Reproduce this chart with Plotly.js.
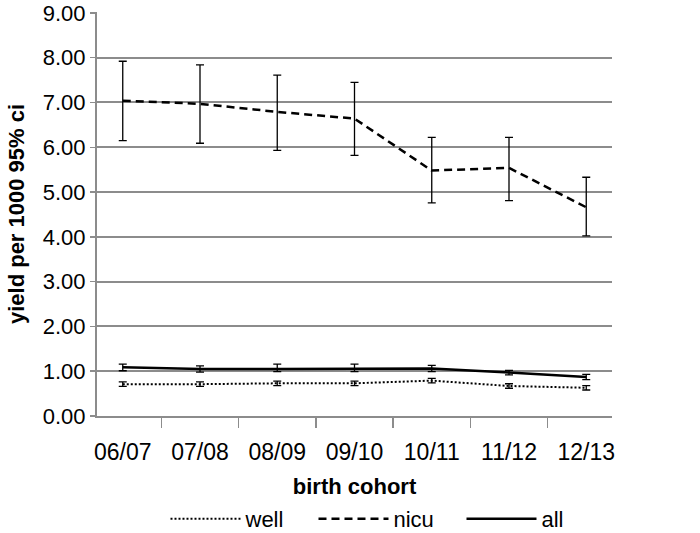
<!DOCTYPE html>
<html>
<head>
<meta charset="utf-8">
<script src="https://cdn.plot.ly/plotly-3.0.1.min.js"></script>
<style>body{margin:0;padding:0;background:#fff;} #chart{width:700px;height:533px;}</style>
</head>
<body>
<div id="chart"></div>
<script>
var cohorts = ["06/07", "07/08", "08/09", "09/10", "10/11", "11/12", "12/13"];

var wellValues = [0.71, 0.71, 0.73, 0.73, 0.79, 0.67, 0.63];
var wellUpper  = [0.76, 0.76, 0.78, 0.78, 0.84, 0.72, 0.68];
var wellLower  = [0.66, 0.66, 0.68, 0.68, 0.74, 0.62, 0.58];

var nicuValues = [7.04, 6.97, 6.79, 6.64, 5.48, 5.54, 4.66];
var nicuUpper  = [7.92, 7.84, 7.61, 7.45, 6.22, 6.22, 5.33];
var nicuLower  = [6.15, 6.09, 5.93, 5.82, 4.76, 4.81, 4.02];

var allValues = [1.09, 1.05, 1.05, 1.05, 1.06, 0.97, 0.87];
var allUpper  = [1.16, 1.12, 1.16, 1.16, 1.13, 1.02, 0.93];
var allLower  = [1.01, 0.98, 0.99, 0.99, 0.99, 0.92, 0.81];

function diff(a, b) { return a.map(function (v, i) { return +(v - b[i]).toFixed(3); }); }

function series(name, vals, up, lo, dash, w) {
  return {
    type: "scatter", mode: "lines", name: name,
    x: cohorts, y: vals,
    line: {color: "#000000", width: w, dash: dash},
    error_y: {type: "data", symmetric: false, array: diff(up, vals), arrayminus: diff(vals, lo),
              color: "#000000", thickness: 1.3, width: 4}
  };
}

var data = [
  series("well", wellValues, wellUpper, wellLower, "2px,2px", 2),
  series("nicu", nicuValues, nicuUpper, nicuLower, "8px,5px", 2.5),
  series("all", allValues, allUpper, allLower, "solid", 2.5)
];

var font = "Liberation Sans, Arial, sans-serif";
var layout = {
  width: 700, height: 533,
  margin: {l: 97, r: 88, t: 12, b: 117, autoexpand: false},
  paper_bgcolor: "#ffffff", plot_bgcolor: "#ffffff",
  showlegend: true,
  legend: {orientation: "h", x: 0.133, xanchor: "left", y: -0.255, yanchor: "middle",
           itemwidth: 70, entrywidth: 63, entrywidthmode: "pixels",
           font: {family: font, size: 22, color: "#000"}, traceorder: "normal"},
  xaxis: {
    type: "category", tickson: "boundaries", ticks: "outside", ticklen: 10, tickcolor: "#8c8c8c", tickwidth: 1.5,
    showline: true, linecolor: "#8c8c8c", linewidth: 2, showgrid: false, zeroline: false, automargin: false,
    ticklabelstandoff: 14,
    tickfont: {family: font, size: 23, color: "#000"},
    title: {text: "birth cohort", font: {family: font, size: 22, color: "#000", weight: "bold"}, standoff: 15}
  },
  yaxis: {
    range: [0, 9.02], dtick: 1, tickformat: ".2f", ticks: "outside", ticklen: 5, tickcolor: "#8c8c8c", tickwidth: 1.5,
    showline: true, linecolor: "#8c8c8c", linewidth: 2, automargin: false, ticklabeloverflow: "allow",
    showgrid: true, gridcolor: "#8c8c8c", gridwidth: 2, zeroline: false,
    tickfont: {family: font, size: 22, color: "#000"},
    title: {text: "yield per 1000 95% ci", font: {family: font, size: 22, color: "#000", weight: "bold"}, standoff: 12}
  }
};

Plotly.newPlot("chart", data, layout, {displayModeBar: false, staticPlot: true});
</script>
</body>
</html>
